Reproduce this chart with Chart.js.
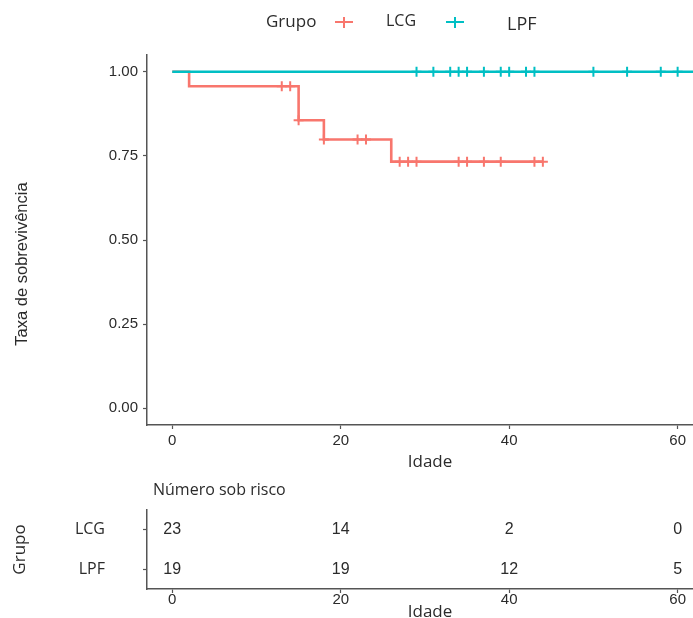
<!DOCTYPE html>
<html>
<head>
<meta charset="utf-8">
<script src="https://cdn.jsdelivr.net/npm/chart.js@4.4.1/dist/chart.umd.min.js"></script>
<style>
  html, body { margin: 0; padding: 0; background: #fff; overflow: hidden; }
  #wrap { position: relative; width: 693px; height: 618px; overflow: hidden; }
  canvas { position: absolute; left: 0; }
</style>
</head>
<body>
<div id="wrap">
  <canvas id="km" width="713" height="478" style="top:0"></canvas>
  <canvas id="risk" width="713" height="150" style="top:478px"></canvas>
</div>
<script>
// ---------- data ----------
const groupTitle = 'Grupo';
const groupNames = ['LCG', 'LPF'];
const groupColors = ['#F8766D', '#00BFC4'];

// Kaplan-Meier steps (time, survival)
const lcgTimes = [0, 2, 15, 18, 26, 44];
const lcgSurv  = [1.00, 0.957, 0.856, 0.799, 0.733, 0.733];
const lpfTimes = [0, 66];
const lpfSurv  = [1.00, 1.00];

// censored observations
const lcgCensorTimes = [13, 14, 15, 18, 22, 23, 27, 28, 29, 34, 35, 37, 39, 43, 44];
const lcgCensorSurv  = [0.957, 0.957, 0.856, 0.799, 0.799, 0.799, 0.733, 0.733, 0.733, 0.733, 0.733, 0.733, 0.733, 0.733, 0.733];
const lpfCensorTimes = [29, 31, 33, 34, 35, 37, 39, 40, 42, 43, 50, 54, 58, 60];
const lpfCensorSurv  = [1, 1, 1, 1, 1, 1, 1, 1, 1, 1, 1, 1, 1, 1];

// axes
const xTickValues = [0, 20, 40, 60];
const yTickValues = [0, 0.25, 0.5, 0.75, 1.0];
const xTitle = 'Idade';
const yTitle = 'Taxa de sobrevivência';

// risk table
const riskTitle = 'Número sob risco';
const riskTimes = [0, 20, 40, 60];
const riskLCG = [23, 14, 2, 0];
const riskLPF = [19, 19, 12, 5];

// ---------- helpers ----------
const pts = (xs, ys) => xs.map((x, i) => ({ x: x, y: ys[i] }));
const AXIS = '#555555';
const TXT = '#2b2b2b';
const TICKFONT = { family: 'Liberation Sans', size: 15 };
const LABFONT = 'Open Sans';
const X_MIN = -3.0, X_MAX = 64.2;

// ---------- main KM chart ----------
const decorPlugin = {
  id: 'ggDecor',
  afterDraw(chart) {
    const ctx = chart.ctx;
    ctx.save();
    // legend
    ctx.textBaseline = 'middle';
    ctx.textAlign = 'left';
    ctx.fillStyle = TXT;
    ctx.font = '17px "' + LABFONT + '"';
    ctx.fillText(groupTitle, 266, 22);
    const keys = [
      { cx: 344, tx: 386, ty: 21, size: 16 },
      { cx: 455, tx: 507, ty: 25, size: 18 }
    ];
    keys.forEach((k, i) => {
      ctx.strokeStyle = groupColors[i];
      ctx.lineWidth = 2;
      ctx.beginPath();
      ctx.moveTo(k.cx - 9, 22); ctx.lineTo(k.cx + 9, 22);
      ctx.moveTo(k.cx, 17); ctx.lineTo(k.cx, 28);
      ctx.stroke();
      ctx.fillStyle = TXT;
      ctx.font = k.size + 'px "' + LABFONT + '"';
      ctx.fillText(groupNames[i], k.tx, k.ty);
    });
    // y-axis title
    ctx.translate(22, 264);
    ctx.rotate(-Math.PI / 2);
    ctx.textAlign = 'center';
    ctx.font = '16.5px "Liberation Sans"';
    ctx.fillStyle = TXT;
    ctx.fillText(yTitle, 0, 0);
    ctx.restore();
  }
};

new Chart(document.getElementById('km'), {
  type: 'line',
  data: {
    datasets: [
      { label: groupNames[1], data: pts(lpfTimes, lpfSurv), stepped: 'before',
        borderColor: groupColors[1], borderWidth: 2.6, pointRadius: 0, fill: false },
      { type: 'scatter', label: groupNames[1] + ' censor', data: pts(lpfCensorTimes, lpfCensorSurv),
        pointStyle: 'cross', pointRadius: 5, borderColor: groupColors[1], borderWidth: 2, showLine: false },
      { label: groupNames[0], data: pts(lcgTimes, lcgSurv), stepped: 'before',
        borderColor: groupColors[0], borderWidth: 2.6, pointRadius: 0, fill: false },
      { type: 'scatter', label: groupNames[0] + ' censor', data: pts(lcgCensorTimes, lcgCensorSurv),
        pointStyle: 'cross', pointRadius: 5, borderColor: groupColors[0], borderWidth: 2, showLine: false }
    ]
  },
  options: {
    responsive: false,
    animation: false,
    devicePixelRatio: 1,
    layout: { autoPadding: false, padding: { top: 55, left: 0, right: 0, bottom: 0 } },
    plugins: { legend: { display: false }, tooltip: { enabled: false } },
    scales: {
      x: {
        type: 'linear', min: X_MIN, max: X_MAX,
        afterBuildTicks: s => { s.ticks = xTickValues.map(v => ({ value: v })); },
        afterFit: s => { s.height = 53; s.paddingLeft = 0; s.paddingRight = 0; },
        ticks: { font: TICKFONT, color: TXT, padding: 3, maxRotation: 0 },
        grid: { drawOnChartArea: false, drawTicks: true, tickLength: 4, color: AXIS, tickWidth: 1.2 },
        border: { display: true, color: AXIS, width: 1.5 },
        title: { display: true, text: xTitle, color: TXT,
                 font: { family: LABFONT, size: 17 }, padding: { top: 0, bottom: 6 } }
      },
      y: {
        type: 'linear', min: -0.05, max: 1.05,
        afterBuildTicks: s => { s.ticks = yTickValues.map(v => ({ value: v })); },
        afterFit: s => { s.width = 147; s.paddingTop = 0; s.paddingBottom = 0; },
        ticks: { font: TICKFONT, color: TXT, padding: 5, callback: v => Number(v).toFixed(2) },
        grid: { drawOnChartArea: false, drawTicks: true, tickLength: 4, color: AXIS, tickWidth: 1.2 },
        border: { display: true, color: AXIS, width: 1.5 },
        title: { display: false }
      }
    }
  },
  plugins: [decorPlugin]
});

// ---------- risk table ----------
const riskLabelPlugin = {
  id: 'riskLabels',
  afterDatasetsDraw(chart) {
    const ctx = chart.ctx;
    ctx.save();
    ctx.fillStyle = TXT;
    ctx.textAlign = 'center';
    ctx.textBaseline = 'middle';
    ctx.font = '16px "Liberation Sans"';
    chart.data.datasets.forEach((ds, di) => {
      const meta = chart.getDatasetMeta(di);
      meta.data.forEach((el, i) => {
        ctx.fillText(String(ds.data[i].n), el.x, el.y);
      });
    });
    ctx.textAlign = 'left';
    ctx.font = '16px "' + LABFONT + '"';
    ctx.fillText(riskTitle, 153, 12);
    ctx.restore();
  }
};

const riskPts = (vals, row) => riskTimes.map((t, i) => ({ x: t, y: row, n: vals[i] }));

new Chart(document.getElementById('risk'), {
  type: 'scatter',
  data: {
    datasets: [
      { label: groupNames[0], data: riskPts(riskLCG, groupNames[0]), pointRadius: 0 },
      { label: groupNames[1], data: riskPts(riskLPF, groupNames[1]), pointRadius: 0 }
    ]
  },
  options: {
    responsive: false,
    animation: false,
    devicePixelRatio: 1,
    layout: { autoPadding: false, padding: { top: 32, left: 0, right: 0, bottom: 0 } },
    plugins: { legend: { display: false }, tooltip: { enabled: false } },
    scales: {
      x: {
        type: 'linear', min: X_MIN, max: X_MAX,
        afterBuildTicks: s => { s.ticks = riskTimes.map(v => ({ value: v })); },
        afterFit: s => { s.height = 39; s.paddingLeft = 0; s.paddingRight = 0; },
        ticks: { font: TICKFONT, color: TXT, padding: -2, maxRotation: 0 },
        grid: { drawOnChartArea: false, drawTicks: true, tickLength: 4, color: AXIS, tickWidth: 1.2 },
        border: { display: true, color: AXIS, width: 1.5 },
        title: { display: true, text: xTitle, color: TXT,
                 font: { family: LABFONT, size: 17 }, padding: { top: 0, bottom: 6 } }
      },
      y: {
        type: 'category', labels: groupNames, offset: true,
        afterFit: s => { s.width = 147; s.paddingTop = 0; s.paddingBottom = 0; },
        ticks: { font: { family: LABFONT, size: 16 }, color: TXT, padding: 38 },
        grid: { drawOnChartArea: false, drawTicks: true, tickLength: 4, color: AXIS, tickWidth: 1.2, offset: false },
        border: { display: true, color: AXIS, width: 1.5 },
        title: { display: true, text: groupTitle, color: TXT,
                 font: { family: LABFONT, size: 17 }, padding: { top: 10, bottom: 0 } }
      }
    }
  },
  plugins: [riskLabelPlugin]
});
</script>
</body>
</html>
